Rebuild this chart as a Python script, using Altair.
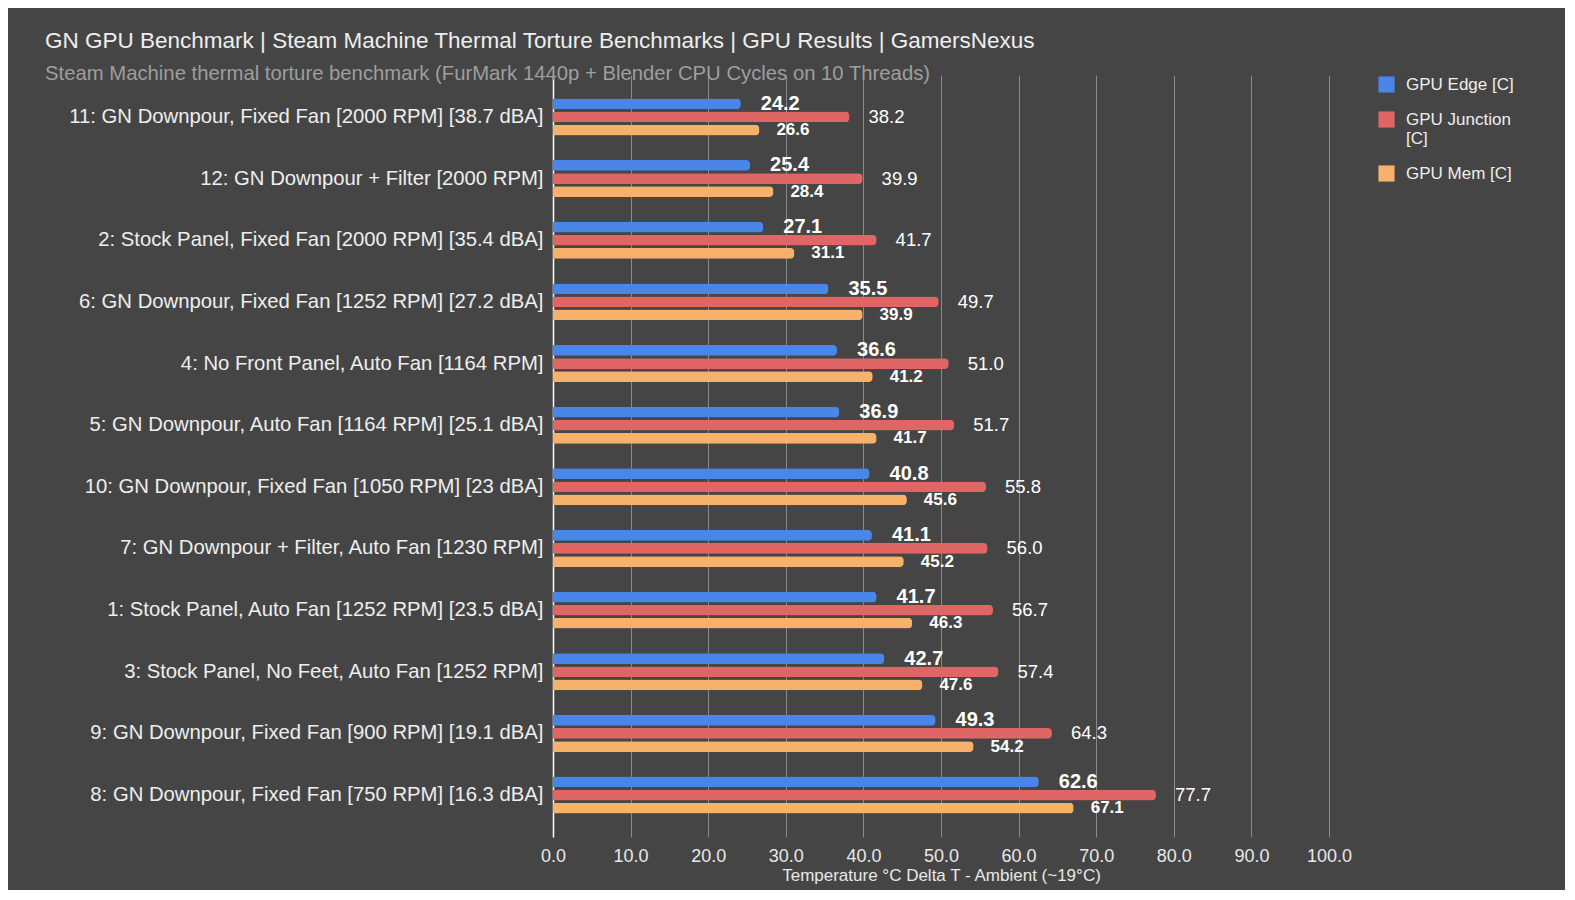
import altair as alt
import pandas as pd

categories = [
    "11: GN Downpour, Fixed Fan [2000 RPM] [38.7 dBA]",
    "12: GN Downpour + Filter [2000 RPM]",
    "2: Stock Panel, Fixed Fan [2000 RPM] [35.4 dBA]",
    "6: GN Downpour, Fixed Fan [1252 RPM] [27.2 dBA]",
    "4: No Front Panel, Auto Fan [1164 RPM]",
    "5: GN Downpour, Auto Fan [1164 RPM] [25.1 dBA]",
    "10: GN Downpour, Fixed Fan [1050 RPM] [23 dBA]",
    "7: GN Downpour + Filter, Auto Fan [1230 RPM]",
    "1: Stock Panel, Auto Fan [1252 RPM] [23.5 dBA]",
    "3: Stock Panel, No Feet, Auto Fan [1252 RPM]",
    "9: GN Downpour, Fixed Fan [900 RPM] [19.1 dBA]",
    "8: GN Downpour, Fixed Fan [750 RPM] [16.3 dBA]",
]
gpu_edge = [24.2, 25.4, 27.1, 35.5, 36.6, 36.9, 40.8, 41.1, 41.7, 42.7, 49.3, 62.6]
gpu_junction = [38.2, 39.9, 41.7, 49.7, 51.0, 51.7, 55.8, 56.0, 56.7, 57.4, 64.3, 77.7]
gpu_mem = [26.6, 28.4, 31.1, 39.9, 41.2, 41.7, 45.6, 45.2, 46.3, 47.6, 54.2, 67.1]
series = ["GPU Edge [C]", "GPU Junction [C]", "GPU Mem [C]"]
colors = ["#4a86e8", "#e06666", "#f6b26b"]
x_ticks = [0, 10, 20, 30, 40, 50, 60, 70, 80, 90, 100]

rows = []
for i, c in enumerate(categories):
    for s, vals in zip(series, [gpu_edge, gpu_junction, gpu_mem]):
        rows.append({"cat": c, "series": s, "value": vals[i]})
df = pd.DataFrame(rows)

FONT = "Liberation Sans"

y_enc = alt.Y(
    "cat:N",
    sort=categories,
    scale=alt.Scale(paddingInner=0.4, paddingOuter=0.38),
    axis=alt.Axis(
        title=None, labelFontSize=20.3, labelColor="#eeeeee", labelFont=FONT,
        ticks=False, tickSize=0, domain=True, domainColor="#ffffff", domainWidth=1.5,
        labelPadding=10, labelLimit=700,
    ),
)
yoff_enc = alt.YOffset("series:N", scale=alt.Scale(domain=series, paddingInner=0.18, paddingOuter=0))
x_enc = alt.X(
    "value:Q",
    scale=alt.Scale(domain=[0, 100], nice=False),
    axis=alt.Axis(
        values=x_ticks, format=".1f", title="Temperature °C Delta T - Ambient (~19°C)",
        grid=True, gridColor="#8a8a8a", gridWidth=1, domain=False, ticks=False, tickSize=0,
        labelFontSize=18, labelColor="#e8e8e8", labelFont=FONT, labelPadding=10,
        labelFlush=False,
        titleFontSize=17, titleColor="#e8e8e8", titleFont=FONT, titleFontWeight="normal",
        titlePadding=2,
    ),
)

bars = alt.Chart(df).mark_bar(cornerRadiusEnd=4).encode(
    x=x_enc,
    y=y_enc,
    yOffset=yoff_enc,
    color=alt.Color(
        "series:N",
        scale=alt.Scale(domain=series, range=colors),
        legend=alt.Legend(
            title=None, orient="none", legendX=825, legendY=1,
            symbolType="square", symbolSize=260, symbolStrokeWidth=0,
            labelFontSize=17, labelColor="#eeeeee", labelFont=FONT, labelLimit=200,
            labelOffset=11, rowPadding=17,
            labelExpr="datum.label == 'GPU Junction [C]' ? ['GPU Junction', '[C]'] : datum.label",
        ),
    ),
)

def labels(s, size, weight, dx):
    return alt.Chart(df).transform_filter(alt.datum.series == s).mark_text(
        align="left", baseline="middle", dx=dx, fontSize=size, fontWeight=weight,
        font=FONT, color="#ffffff",
    ).encode(
        x=alt.X("value:Q"),
        y=alt.Y("cat:N", sort=categories),
        yOffset=alt.YOffset("series:N"),
        text=alt.Text("value:Q", format=".1f"),
    )

chart = alt.layer(
    bars,
    labels(series[0], 20, "bold", 20),
    labels(series[1], 18.5, "normal", 19),
    labels(series[2], 17, "bold", 17),
).properties(
    width=776,
    height=762,
    background="#454545",
    padding={"left": 545, "top": 67, "right": 236, "bottom": 53},
    autosize=alt.AutoSizeParams(type="none"),
    title=alt.TitleParams(
        text="GN GPU Benchmark | Steam Machine Thermal Torture Benchmarks | GPU Results | GamersNexus",
        subtitle="Steam Machine thermal torture benchmark (FurMark 1440p + Blender CPU Cycles on 10 Threads)",
        anchor="start", frame="group", dx=-508, offset=-9,
        font=FONT, fontSize=22.5, fontWeight="normal", color="#eeeeee",
        subtitleFont=FONT, subtitleFontSize=20.3, subtitleColor="#9e9e9e", subtitlePadding=11,
    ),
).configure_view(stroke=None)

chart.save("out.html", embed_options={"renderer": "svg", "actions": False})
